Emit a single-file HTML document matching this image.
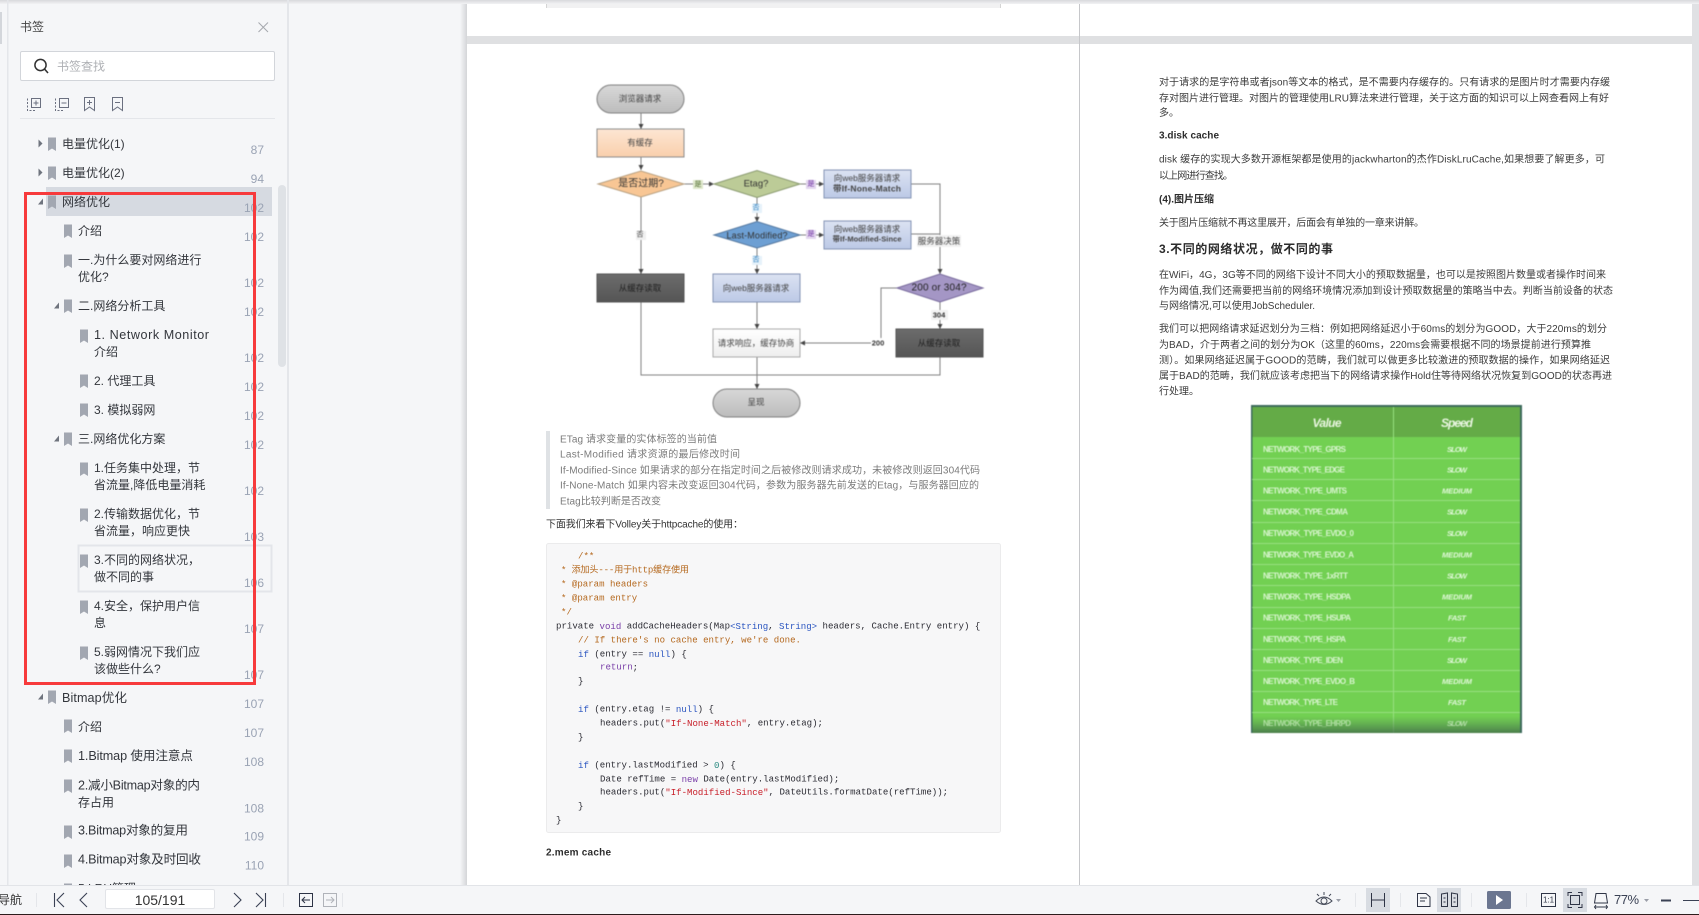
<!DOCTYPE html>
<html lang="zh"><head><meta charset="utf-8"><title>书签</title>
<style>
html,body{margin:0;padding:0;width:1699px;height:915px;overflow:hidden;background:#f5f6f8}
svg{display:block;position:absolute;left:0;top:0}
text{font-family:"Liberation Sans","Noto Sans CJK SC",sans-serif;dominant-baseline:central}
.s{font-size:12px;fill:#33363c}
.l{font-size:12.6px;fill:#33363c}
.p{font-size:12px;fill:#9aa3b4;text-anchor:end}
.q{font-size:10px;fill:#7b7b7b}
.t{font-size:10px;fill:#3c3c3c}
.b{font-size:10px;fill:#2c2c2c;font-weight:bold}
.c{font-family:"Liberation Mono","Noto Sans CJK SC",monospace;font-size:9.07px;fill:#2b2b33}
.cm{fill:#b5691f}.kw{fill:#7a3fa8}.bl{fill:#2a55c0}.st{fill:#c8202a}.gr{fill:#2a8a80}
.f{font-size:8.5px;fill:#444;text-anchor:middle}
.n{font-size:8px;font-weight:bold;fill:#d8f5ce}
.v{font-size:7.6px;font-weight:bold;font-style:italic;fill:#e0f8d8;text-anchor:middle}
.blur{filter:blur(.45px)}
</style></head><body>
<svg width="1699" height="915" viewBox="0 0 1699 915" xmlns="http://www.w3.org/2000/svg">
<defs>
<path id="bm" d="M0-6.500H8V7L4 4.500 0 7Z" fill="#a2a7b1"/>
<linearGradient id="sh" x1="0" x2="1" y1="0" y2="0"><stop offset="0" stop-color="#f5f6f8"/><stop offset="1" stop-color="#d4d5d8"/></linearGradient>
<linearGradient id="top" x1="0" x2="0" y1="0" y2="1"><stop offset="0" stop-color="#d8d9dc"/><stop offset="1" stop-color="#f2f2f4"/></linearGradient>
<linearGradient id="fade" x1="0" x2="0" y1="0" y2="1"><stop offset="0" stop-color="#4a7a55" stop-opacity="0"/><stop offset="1" stop-color="#3a5a48" stop-opacity=".7"/></linearGradient>
<linearGradient id="or" x1="0" x2="0" y1="0" y2="1"><stop offset="0" stop-color="#fde6d3"/><stop offset="1" stop-color="#f9cfac"/></linearGradient>
<linearGradient id="bb" x1="0" x2="0" y1="0" y2="1"><stop offset="0" stop-color="#dbe2f2"/><stop offset="1" stop-color="#bcc9e6"/></linearGradient>
<linearGradient id="gy" x1="0" x2="0" y1="0" y2="1"><stop offset="0" stop-color="#d8d8d8"/><stop offset="1" stop-color="#bcbcbc"/></linearGradient>
<linearGradient id="dk" x1="0" x2="0" y1="0" y2="1"><stop offset="0" stop-color="#6c6c6c"/><stop offset="1" stop-color="#555"/></linearGradient>
<linearGradient id="wh" x1="0" x2="0" y1="0" y2="1"><stop offset="0" stop-color="#fff"/><stop offset="1" stop-color="#eee"/></linearGradient>
<marker id="ar" markerWidth="6" markerHeight="6" refX="5" refY="3" orient="auto"><path d="M0 0.500L5 3 0 5.500Z" fill="#444"/></marker>
</defs>

<!-- viewer background -->
<rect x="0" y="0" width="1699" height="915" fill="#f5f6f8"/>
<rect x="460" y="3" width="7" height="882" fill="url(#sh)"/>
<rect x="467" y="3" width="1225" height="882" fill="#fff"/>
<rect x="467" y="36" width="1225" height="8" fill="#dfe0e2"/>
<rect x="1692" y="3" width="7" height="882" fill="#e0e1e4"/>
<rect x="1079" y="3" width="1" height="882" fill="#c6c7ca"/>
<rect x="0" y="0" width="1699" height="4" fill="url(#top)"/>
<rect x="546" y="4" width="455" height="4" fill="#f1f1f2"/>
<rect x="546" y="4" width="1" height="4" fill="#d5d5d5"/><rect x="1000" y="4" width="1" height="4" fill="#d5d5d5"/>

<!-- sidebar -->
<rect x="0" y="12" width="2" height="32" fill="#d3d6db"/>
<rect x="7" y="0" width="1.500" height="885" fill="#e4e6ea"/>
<rect x="287" y="0" width="2" height="885" fill="#e4e6ea"/>
<text x="20" y="27" style="font-size:12px;fill:#444">书签</text>
<path d="M258.500 22.500 268 32M268 22.500 258.500 32" stroke="#a5a8ae" stroke-width="1"/>
<rect x="20.500" y="51.500" width="254" height="29" rx="1.500" fill="#fff" stroke="#d2d5da"/>
<circle cx="40.500" cy="65" r="5.600" fill="none" stroke="#333" stroke-width="1.500"/><path d="M44.500 69 48 73" stroke="#333" stroke-width="1.600"/>
<text x="57" y="66.500" style="font-size:12px;fill:#aeb0b4">书签查找</text>
<g fill="none" stroke="#6b7080" stroke-width="1">
<path d="M27.500 98.500V110.500H36.500" stroke-dasharray="2 1.500"/><rect x="31.500" y="98.500" width="9" height="9"/><path d="M33.500 103H38.500M36 100.500V105.500"/>
<path d="M55.500 98.500V110.500H64.500" stroke-dasharray="2 1.500"/><rect x="59.500" y="98.500" width="9" height="9"/><path d="M61.500 103H66.500"/>
<path d="M84.500 97.500H94.500V110.500L89.500 107 84.500 110.500Z"/><path d="M87 102.500H92M89.500 100V105"/>
<path d="M112.500 97.500H122.500V110.500L117.500 107 112.500 110.500Z"/><path d="M115 102.500H120"/>
</g>
<rect x="20" y="118" width="255" height="1" fill="#e4e6ea"/>
<rect x="278" y="185" width="8" height="182" rx="4" fill="#dfe2e6"/>
<rect x="46" y="187" width="226" height="29" fill="#d6dae1"/>
<rect x="78.500" y="545.500" width="193" height="46" fill="none" stroke="#e3e5ea" stroke-width="2"/>

<!-- arrows -->
<g fill="#6f747e">
<path d="M38.500 139.500 42.500 143.500 38.500 147.500Z"/><path d="M38.500 168.500 42.500 172.500 38.500 176.500Z"/>
<path d="M38 204.500H43V198.500Z"/><path d="M54 308.500H59V302.500Z"/><path d="M54 441.500H59V435.500Z"/><path d="M38 699.500H43V693.500Z"/>
</g>
<!-- bookmark icons -->
<use href="#bm" x="48" y="144"/><use href="#bm" x="48" y="173"/><use href="#bm" x="48" y="202"/>
<use href="#bm" x="64" y="231"/><use href="#bm" x="64" y="261"/><use href="#bm" x="64" y="306"/>
<use href="#bm" x="80" y="336"/><use href="#bm" x="80" y="381"/><use href="#bm" x="80" y="410"/>
<use href="#bm" x="64" y="439"/><use href="#bm" x="80" y="469"/><use href="#bm" x="80" y="515"/>
<use href="#bm" x="80" y="561"/><use href="#bm" x="80" y="607"/><use href="#bm" x="80" y="653"/>
<use href="#bm" x="48" y="697"/><use href="#bm" x="64" y="726"/><use href="#bm" x="64" y="756"/>
<use href="#bm" x="64" y="786"/><use href="#bm" x="64" y="832"/><use href="#bm" x="64" y="861"/>
<use href="#bm" x="64" y="890"/>

<!-- bookmark text -->
<text class="s" x="62" y="144">电量优化(1)</text><text class="p" x="264" y="150">87</text>
<text class="s" x="62" y="173">电量优化(2)</text><text class="p" x="264" y="179">94</text>
<text class="s" x="62" y="202">网络优化</text><text class="p" x="264" y="208">102</text>
<text class="s" x="78" y="231">介绍</text><text class="p" x="264" y="237">102</text>
<text class="s" x="78" y="260">一.为什么要对网络进行</text><text class="s" x="78" y="277">优化?</text><text class="p" x="264" y="283">102</text>
<text class="s" x="78" y="306">二.网络分析工具</text><text class="p" x="264" y="312">102</text>
<text class="l" x="94" y="335" textLength="115">1. Network Monitor</text><text class="s" x="94" y="352">介绍</text><text class="p" x="264" y="358">102</text>
<text class="s" x="94" y="381">2. 代理工具</text><text class="p" x="264" y="387">102</text>
<text class="s" x="94" y="410">3. 模拟弱网</text><text class="p" x="264" y="416">102</text>
<text class="s" x="78" y="439">三.网络优化方案</text><text class="p" x="264" y="445">102</text>
<text class="s" x="94" y="468">1.任务集中处理，节</text><text class="s" x="94" y="485">省流量,降低电量消耗</text><text class="p" x="264" y="491">102</text>
<text class="s" x="94" y="514">2.传输数据优化，节</text><text class="s" x="94" y="531">省流量，响应更快</text><text class="p" x="264" y="537">103</text>
<text class="s" x="94" y="560">3.不同的网络状况，</text><text class="s" x="94" y="577">做不同的事</text><text class="p" x="264" y="583">106</text>
<text class="s" x="94" y="606">4.安全，保护用户信</text><text class="s" x="94" y="623">息</text><text class="p" x="264" y="629">107</text>
<text class="s" x="94" y="652">5.弱网情况下我们应</text><text class="s" x="94" y="669">该做些什么?</text><text class="p" x="264" y="675">107</text>
<text class="l" x="62" y="698" textLength="65">Bitmap优化</text><text class="p" x="264" y="704">107</text>
<text class="s" x="78" y="727">介绍</text><text class="p" x="264" y="733">107</text>
<text class="l" x="78" y="756" textLength="115">1.Bitmap 使用注意点</text><text class="p" x="264" y="762">108</text>
<text class="l" x="78" y="785.500" textLength="122">2.减小Bitmap对象的内</text><text class="s" x="78" y="802.500">存占用</text><text class="p" x="264" y="808.500">108</text>
<text class="l" x="78" y="830.500" textLength="110">3.Bitmap对象的复用</text><text class="p" x="264" y="836.500">109</text>
<text class="l" x="78" y="859.500" textLength="123">4.Bitmap对象及时回收</text><text class="p" x="264" y="865.500">110</text>
<text class="s" x="78" y="888.500">5.LRU管理</text>
<rect x="25.500" y="193.500" width="229" height="490" fill="none" stroke="#f73a3c" stroke-width="3"/>

<!-- flowchart -->
<g class="blur">
<g fill="none" stroke="#808080" stroke-width="1">
<path d="M641 113V129" marker-end="url(#ar)"/><path d="M641 157V170" marker-end="url(#ar)"/>
<path d="M641 197V274" marker-end="url(#ar)"/><path d="M684 184H714" marker-end="url(#ar)"/>
<path d="M800 184H824" marker-end="url(#ar)"/><path d="M800 235H824" marker-end="url(#ar)"/>
<path d="M757 197V222" marker-end="url(#ar)"/><path d="M757 248V274" marker-end="url(#ar)"/>
<path d="M757 302V329" marker-end="url(#ar)"/><path d="M757 357V389" marker-end="url(#ar)"/>
<path d="M911 184H940V274" marker-end="url(#ar)"/><path d="M911 234H940"/>
<path d="M641 302V375H940V357"/>
<path d="M940 302V329" marker-end="url(#ar)"/>
<path d="M897 288H881V343H800" marker-end="url(#ar)"/>
</g>
<rect x="597" y="85" width="87" height="28" rx="14" fill="url(#gy)" stroke="#808080"/>
<rect x="597" y="129" width="87" height="28" fill="url(#or)" stroke="#8c8c8c"/>
<path d="M598 184 641 171 684 184 641 197Z" fill="#f8c694" stroke="#b8a080"/>
<path d="M714 184 757 170.500 800 184 757 197.500Z" fill="#bccb97" stroke="#8a9a70"/>
<path d="M714 235 757 221.500 800 235 757 248Z" fill="#6d9fd3" stroke="#55789f"/>
<rect x="824" y="170" width="87" height="28" fill="url(#bb)" stroke="#8494b5"/>
<rect x="824" y="221" width="87" height="28" fill="url(#bb)" stroke="#8494b5"/>
<rect x="597" y="274" width="87" height="28" fill="url(#dk)" stroke="#555"/>
<rect x="713" y="274" width="87" height="28" fill="url(#bb)" stroke="#8494b5"/>
<rect x="713" y="329" width="87" height="28" fill="url(#wh)" stroke="#aaa"/>
<path d="M897 288 940 274 983 288 940 302Z" fill="#a496c5" stroke="#786a9c"/>
<rect x="896" y="329" width="87" height="28" fill="url(#dk)" stroke="#555"/>
<rect x="713" y="389" width="87" height="28" rx="14" fill="url(#gy)" stroke="#808080"/>
<text class="f" x="640" y="98.500">浏览器请求</text>
<text class="f" x="640" y="142.500">有缓存</text>
<text class="f" x="641" y="184" style="font-size:10px;fill:#333">是否过期?</text>
<text class="f" x="756" y="184" style="font-size:9.500px;fill:#333">Etag?</text>
<text class="f" x="757" y="235.500" style="font-size:9px;fill:#333" textLength="61">Last-Modified?</text>
<text class="f" x="867" y="178">向web服务器请求</text>
<text class="f" x="867" y="188.500" style="font-weight:bold" textLength="68">带If-None-Match</text>
<text class="f" x="867" y="229">向web服务器请求</text>
<text class="f" x="867" y="239" style="font-size:7.500px;font-weight:bold" textLength="69">带If-Modified-Since</text>
<text class="f" x="640" y="288" style="fill:#1e1e1e">从缓存读取</text>
<text class="f" x="756" y="288">向web服务器请求</text>
<text class="f" x="756" y="343">请求响应，缓存协商</text>
<text class="f" x="939" y="288" style="font-size:10px;fill:#222" textLength="55">200 or 304?</text>
<text class="f" x="939" y="343" style="fill:#1e1e1e">从缓存读取</text>
<text class="f" x="756" y="402">呈现</text>
<rect x="693" y="180" width="10" height="9" fill="#dfe8cc"/><text class="f" x="698" y="184.500" style="font-size:7px;fill:#4d6a2c">是</text>
<rect x="806" y="180" width="10" height="9" fill="#e3d6ee"/><text class="f" x="811" y="184" style="font-size:7px;fill:#6a2aa0">是</text>
<rect x="806" y="230" width="10" height="9" fill="#e3d6ee"/><text class="f" x="811" y="234" style="font-size:7px;fill:#6a2aa0">是</text>
<rect x="752" y="204" width="10" height="9" fill="#e6f2fa"/><text class="f" x="756" y="208" style="font-size:7px;fill:#2a7ec0">否</text>
<rect x="752" y="256" width="10" height="9" fill="#e6f2fa"/><text class="f" x="756" y="260" style="font-size:7px;fill:#2a7ec0">否</text>
<rect x="636" y="231" width="10" height="9" fill="#f0f0f0"/><text class="f" x="640" y="235" style="font-size:7px">否</text>
<rect x="917" y="235" width="44" height="12" fill="#f2f2f2"/><text class="f" x="939" y="241">服务器决策</text>
<rect x="931" y="310" width="17" height="10" fill="#f2f2f2"/><text class="f" x="939" y="315" style="font-size:7.500px;font-weight:bold;fill:#333">304</text>
<rect x="871" y="338" width="15" height="10" fill="#fff"/><text class="f" x="878" y="343" style="font-size:7.500px;font-weight:bold;fill:#333">200</text>
</g>

<!-- quote -->
<rect x="546" y="431" width="4" height="78" fill="#dfe2e5"/>
<text class="q" x="560" y="440" textLength="157">ETag  请求变量的实体标签的当前值</text>
<text class="q" x="560" y="455" textLength="180">Last-Modified  请求资源的最后修改时间</text>
<text class="q" x="560" y="471" textLength="420">If-Modified-Since 如果请求的部分在指定时间之后被修改则请求成功，未被修改则返回304代码</text>
<text class="q" x="560" y="486" textLength="419">If-None-Match 如果内容未改变返回304代码，参数为服务器先前发送的Etag，与服务器回应的</text>
<text class="q" x="560" y="502" textLength="101">Etag比较判断是否改变</text>
<text class="t" x="546" y="525" textLength="197" style="fill:#333">下面我们来看下Volley关于httpcache的使用：</text>

<!-- code -->
<rect x="546.500" y="543.500" width="454" height="289" rx="2" fill="#f7f7f8" stroke="#ebebec"/>
<text class="c cm" x="578" y="556">/**</text>
<text class="c cm" x="561" y="570" textLength="128">* 添加头---用于http缓存使用</text>
<text class="c cm" x="561" y="584">* @param headers</text>
<text class="c cm" x="561" y="598">* @param entry</text>
<text class="c cm" x="561" y="612">*/</text>
<text class="c" x="556" y="626">private <tspan class="kw">void</tspan> addCacheHeaders(Map<tspan class="bl">&lt;String</tspan>, <tspan class="bl">String&gt;</tspan> headers, Cache.Entry entry) {</text>
<text class="c cm" x="578" y="640">// If there's no cache entry, we're done.</text>
<text class="c" x="578" y="654"><tspan class="bl">if</tspan> (entry == <tspan class="bl">null</tspan>) {</text>
<text class="c kw" x="600" y="667">return<tspan style="fill:#2b2b33">;</tspan></text>
<text class="c" x="578" y="681">}</text>
<text class="c" x="578" y="709"><tspan class="bl">if</tspan> (entry.etag != <tspan class="bl">null</tspan>) {</text>
<text class="c" x="600" y="723">headers.put(<tspan class="st">"If-None-Match"</tspan>, entry.etag);</text>
<text class="c" x="578" y="737">}</text>
<text class="c" x="578" y="765"><tspan class="bl">if</tspan> (entry.lastModified &gt; <tspan class="gr">0</tspan>) {</text>
<text class="c" x="600" y="779">Date refTime = <tspan class="kw">new</tspan> Date(entry.lastModified);</text>
<text class="c" x="600" y="792">headers.put(<tspan class="st">"If-Modified-Since"</tspan>, DateUtils.formatDate(refTime));</text>
<text class="c" x="578" y="806">}</text>
<text class="c" x="556" y="820">}</text>
<text class="b" x="546" y="853" textLength="65">2.mem cache</text>

<!-- right page -->
<text class="t" x="1159" y="83" textLength="451">对于请求的是字符串或者json等文本的格式，是不需要内存缓存的。只有请求的是图片时才需要内存缓</text>
<text class="t" x="1159" y="99" textLength="450">存对图片进行管理。对图片的管理使用LRU算法来进行管理，关于这方面的知识可以上网查看网上有好</text>
<text class="t" x="1159" y="113.500">多。</text>
<text class="b" x="1159" y="136" textLength="60">3.disk cache</text>
<text class="t" x="1159" y="160" textLength="446">disk 缓存的实现大多数开源框架都是使用的jackwharton的杰作DiskLruCache,如果想要了解更多，可</text>
<text class="t" x="1159" y="176.500" textLength="74">以上网进行查找。</text>
<text class="b" x="1159" y="200" textLength="55">(4).图片压缩</text>
<text class="t" x="1159" y="223.500" textLength="265">关于图片压缩就不再这里展开，后面会有单独的一章来讲解。</text>
<text class="b" x="1159" y="249" style="font-size:12px" textLength="174">3.不同的网络状况，做不同的事</text>
<text class="t" x="1159" y="275.500" textLength="447">在WiFi，4G，3G等不同的网络下设计不同大小的预取数据量，也可以是按照图片数量或者操作时间来</text>
<text class="t" x="1159" y="291.500" textLength="454">作为阈值,我们还需要把当前的网络环境情况添加到设计预取数据量的策略当中去。判断当前设备的状态</text>
<text class="t" x="1159" y="306.500" textLength="156">与网络情况,可以使用JobScheduler.</text>
<text class="t" x="1159" y="329.500" textLength="448">我们可以把网络请求延迟划分为三档：例如把网络延迟小于60ms的划分为GOOD，大于220ms的划分</text>
<text class="t" x="1159" y="345.500" textLength="432">为BAD，介于两者之间的划分为OK（这里的60ms，220ms会需要根据不同的场景提前进行预算推</text>
<text class="t" x="1159" y="361" textLength="451">测）。如果网络延迟属于GOOD的范畴，我们就可以做更多比较激进的预取数据的操作，如果网络延迟</text>
<text class="t" x="1159" y="376.500" textLength="453">属于BAD的范畴，我们就应该考虑把当下的网络请求操作Hold住等待网络状况恢复到GOOD的状态再进</text>
<text class="t" x="1159" y="392">行处理。</text>

<!-- table -->
<g class="blur">
<rect x="1251" y="405" width="271" height="328" fill="#3d6a5c"/>
<rect x="1252.500" y="407" width="267.500" height="30" fill="#64ab47"/>
<rect x="1252.500" y="437" width="267.500" height="296" fill="#72d052"/>
<g fill="#97e080">
<rect x="1252" y="458" width="268" height="1"/><rect x="1252" y="479" width="268" height="1"/><rect x="1252" y="500" width="268" height="1"/><rect x="1252" y="522" width="268" height="1"/><rect x="1252" y="543" width="268" height="1"/><rect x="1252" y="564" width="268" height="1"/><rect x="1252" y="585" width="268" height="1"/><rect x="1252" y="607" width="268" height="1"/><rect x="1252" y="628" width="268" height="1"/><rect x="1252" y="649" width="268" height="1"/><rect x="1252" y="670" width="268" height="1"/><rect x="1252" y="691" width="268" height="1"/><rect x="1252" y="712" width="268" height="1"/>
<rect x="1393" y="407" width="1" height="326"/>
</g>
<rect x="1252.500" y="716" width="267.500" height="17" fill="url(#fade)"/>
<text x="1327" y="423" style="font-size:12px;font-weight:bold;font-style:italic;fill:#eaf6e2;text-anchor:middle" textLength="29">Value</text>
<text x="1457" y="423" style="font-size:12px;font-weight:bold;font-style:italic;fill:#eaf6e2;text-anchor:middle" textLength="32">Speed</text>
<text class="n" x="1263" y="449.500" textLength="83">NETWORK_TYPE_GPRS</text><text class="v" x="1457" y="449.500" textLength="20">SLOW</text>
<text class="n" x="1263" y="470" textLength="82">NETWORK_TYPE_EDGE</text><text class="v" x="1457" y="470" textLength="20">SLOW</text>
<text class="n" x="1263" y="491" textLength="84">NETWORK_TYPE_UMTS</text><text class="v" x="1457" y="491" textLength="30">MEDIUM</text>
<text class="n" x="1263" y="512" textLength="85">NETWORK_TYPE_CDMA</text><text class="v" x="1457" y="512" textLength="20">SLOW</text>
<text class="n" x="1263" y="533.500" textLength="91">NETWORK_TYPE_EVDO_0</text><text class="v" x="1457" y="533.500" textLength="20">SLOW</text>
<text class="n" x="1263" y="555" textLength="91">NETWORK_TYPE_EVDO_A</text><text class="v" x="1457" y="555" textLength="30">MEDIUM</text>
<text class="n" x="1263" y="576" textLength="85">NETWORK_TYPE_1xRTT</text><text class="v" x="1457" y="576" textLength="20">SLOW</text>
<text class="n" x="1263" y="597" textLength="88">NETWORK_TYPE_HSDPA</text><text class="v" x="1457" y="597" textLength="30">MEDIUM</text>
<text class="n" x="1263" y="618" textLength="88">NETWORK_TYPE_HSUPA</text><text class="v" x="1457" y="618" textLength="18">FAST</text>
<text class="n" x="1263" y="639.500" textLength="83">NETWORK_TYPE_HSPA</text><text class="v" x="1457" y="639.500" textLength="18">FAST</text>
<text class="n" x="1263" y="660.500" textLength="80">NETWORK_TYPE_IDEN</text><text class="v" x="1457" y="660.500" textLength="20">SLOW</text>
<text class="n" x="1263" y="681.500" textLength="92">NETWORK_TYPE_EVDO_B</text><text class="v" x="1457" y="681.500" textLength="30">MEDIUM</text>
<text class="n" x="1263" y="702.500" textLength="75">NETWORK_TYPE_LTE</text><text class="v" x="1457" y="702.500" textLength="18">FAST</text>
<text class="n" x="1263" y="723.500" textLength="88" style="opacity:.65">NETWORK_TYPE_EHRPD</text><text class="v" x="1457" y="723.500" textLength="20" style="opacity:.65">SLOW</text>
</g>

<!-- bottom toolbar -->
<rect x="0" y="885" width="1699" height="29" fill="#f5f6f8"/>
<rect x="0" y="885" width="1699" height="1" fill="#e2e4e8"/>
<rect x="0" y="914" width="1699" height="1" fill="#2c1c1c"/>
<text x="-2" y="900" style="font-size:12px;fill:#333">导航</text>
<rect x="36" y="893" width="1" height="14" fill="#e4e6ea"/>
<g fill="none" stroke="#3a4154" stroke-width="1.100">
<path d="M54.500 893V907M64 893 57 900 64 907"/><path d="M87 893 80 900 87 907"/>
<path d="M234 893 241 900 234 907"/><path d="M256 893 263 900 256 907M265.500 893V907"/>
</g>
<rect x="105.500" y="889.500" width="109" height="19" rx="1.500" fill="#fff" stroke="#e2e4e8"/>
<text x="160" y="900" style="font-size:14px;fill:#333;text-anchor:middle">105/191</text>
<rect x="283" y="893" width="1" height="14" fill="#e4e6ea"/>
<rect x="299.500" y="893.500" width="13" height="13" fill="none" stroke="#2c3345"/>
<path d="M302 900H310M305 897 302 900 305 903" fill="none" stroke="#2c3345"/>
<rect x="323.500" y="893.500" width="13" height="13" fill="none" stroke="#b0b3b9"/>
<path d="M326 900H334M331 897 334 900 331 903" fill="none" stroke="#b0b3b9"/>
<rect x="342" y="893" width="1" height="14" fill="#e4e6ea"/>

<g fill="none" stroke="#444a58" stroke-width="1">
<path d="M1316 901Q1324 893 1332 901Q1324 908 1316 901Z"/><circle cx="1324" cy="901" r="3"/>
<path d="M1317 894 1319 896M1324 892V895M1331 894 1329 896"/>
</g>
<path d="M1336 899H1341L1338.500 902Z" fill="#9a9ea8"/>
<rect x="1355" y="893" width="1" height="14" fill="#e4e6ea"/>
<rect x="1366" y="888" width="24" height="24" fill="#d8dce2"/>
<path d="M1371.500 893V907M1384.500 893V907M1371 900H1385" fill="none" stroke="#2f3546"/>
<rect x="1400" y="893" width="1" height="14" fill="#e4e6ea"/>
<path d="M1417.500 893.500H1426L1430 897V906.500H1417.500ZM1420 898H1427M1420 901H1425" fill="none" stroke="#2f3546"/>
<rect x="1437" y="888" width="24" height="24" fill="#d8dce2"/>
<path d="M1441.500 894 1447.500 893V906.500H1441.500ZM1451.500 893 1457.500 894V906.500H1451.500ZM1443.500 898H1445.500M1443.500 902H1445.500M1453.500 898H1455.500M1453.500 902H1455.500" fill="none" stroke="#2f3546"/>
<rect x="1471" y="893" width="1" height="14" fill="#e4e6ea"/>
<rect x="1487" y="891" width="24" height="18" rx="1.500" fill="#6b7690"/>
<path d="M1496 895 1503 900 1496 905Z" fill="#fff"/>
<rect x="1526" y="893" width="1" height="14" fill="#e4e6ea"/>
<rect x="1541.500" y="893.500" width="14" height="13" fill="none" stroke="#2f3546"/>
<text x="1548.500" y="900" style="font-size:8px;fill:#2f3546;text-anchor:middle">1:1</text>
<rect x="1563" y="888" width="24" height="24" fill="#d8dce2"/>
<path d="M1568 896V892.500H1572M1578 892.500H1582V896M1582 904V907.500H1578M1572 907.500H1568V904M1570.500 895.500H1579.500V904.500H1570.500Z" fill="none" stroke="#2f3546"/>
<path d="M1596 893.500H1606L1607.500 903H1594.500ZM1594.500 907H1607.500M1596 905 1594.500 907 1596 909M1606 905 1607.500 907 1606 909" fill="none" stroke="#2f3546"/>
<text x="1614" y="899.500" style="font-size:13px;fill:#3a4154" textLength="25">77%</text>
<path d="M1644 899H1649L1646.500 902Z" fill="#9a9ea8"/>
<rect x="1661" y="899.500" width="10" height="2" fill="#3a4154"/>
<rect x="1683" y="900" width="16" height="1" fill="#3a4154"/>
</svg>
</body></html>
